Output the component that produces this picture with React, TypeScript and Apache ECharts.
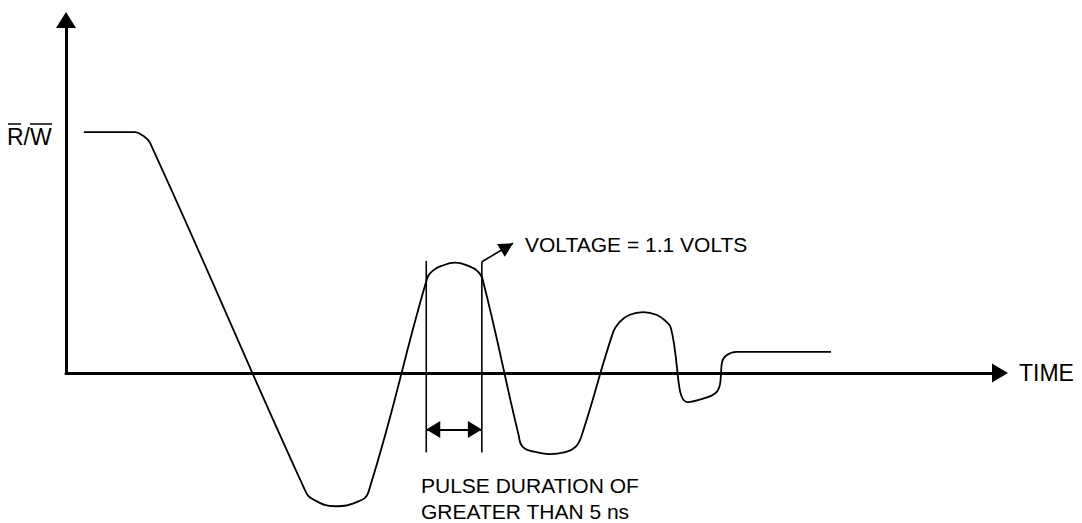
import React, { useEffect, useRef } from "react";
import * as echarts from "echarts";

// Waveform of the R/W line: [time (ns), voltage (V)]
const waveform: [number, number][] = [
  [1.6, 2.73], [6.2, 2.73], [6.9, 2.69], [7.55, 2.61],
  [21.5, -1.33], [22.2, -1.43], [24.2, -1.51], [26.2, -1.46], [27.2, -1.35],
  [32.47, 1.07], [33.0, 1.16], [33.7, 1.21], [35.0, 1.25], [36.25, 1.21], [36.95, 1.16], [37.45, 1.07],
  [40.7, -0.7], [41.1, -0.84], [42.4, -0.9], [43.5, -0.92], [44.8, -0.9], [45.8, -0.84], [46.4, -0.7],
  [49.2, 0.46], [49.8, 0.58], [50.7, 0.66], [51.9, 0.69], [53.1, 0.66], [54.0, 0.58], [54.4, 0.51],
  [55.9, -0.33], [57.3, -0.29], [58.4, -0.23], [58.8, -0.14], [58.9, -0.02], [59.0, 0.12],
  [59.4, 0.2], [60.3, 0.24], [61.1, 0.24], [68.8, 0.24],
];

// Pulse-duration markers
const pulseTimes = [32.4, 37.4];
const pulseLineRange = [-0.9, 1.27];
const durationArrowLevel = -0.64;
const voltageArrowFrom: [number, number] = [37.4, 1.26];
const voltageArrowTo: [number, number] = [40.2, 1.47];

// Axis ranges
const timeRange = [0, 84];
const voltRange = [-1.6, 4];

// Texts
const xAxisName = "TIME";
const yAxisName = "R/W";
const voltageNote = "VOLTAGE = 1.1 VOLTS";
const pulseNote = ["PULSE DURATION OF", "GREATER THAN 5 ns"];

const FONT = "'Liberation Sans', Arial, Helvetica, sans-serif";

export default function App() {
  const ref = useRef<HTMLDivElement>(null);

  useEffect(() => {
    if (!ref.current) return;
    const chart = echarts.init(ref.current, null, { renderer: "svg" });

    const black = "#000";
    const hiddenAxisParts = {
      axisTick: { show: false },
      axisLabel: { show: false },
      splitLine: { show: false },
    };

    const option: any = {
      animation: false,
      backgroundColor: "#fff",
      grid: [
        { left: 66, right: 82, top: 20, bottom: 8.8, outerBoundsMode: "none", containLabel: false },
        { left: 66, right: 82, top: 20, bottom: 150, outerBoundsMode: "none", containLabel: false },
      ],
      xAxis: [
        {
          type: "value",
          gridIndex: 0,
          min: timeRange[0],
          max: timeRange[1],
          axisLine: {
            show: true,
            onZero: true,
            symbol: ["none", "triangle"],
            symbolSize: [19, 16],
            lineStyle: { color: black, width: 3 },
          },
          name: xAxisName,
          nameLocation: "end",
          nameGap: 19,
          nameTextStyle: { fontSize: 23, color: black, fontFamily: FONT, align: "left", verticalAlign: "middle" },
          ...hiddenAxisParts,
        },
        {
          type: "value",
          gridIndex: 1,
          min: timeRange[0],
          max: timeRange[1],
          show: false,
        },
      ],
      yAxis: [
        {
          type: "value",
          gridIndex: 0,
          min: voltRange[0],
          max: voltRange[1],
          axisLine: { show: false },
          ...hiddenAxisParts,
        },
        {
          type: "value",
          gridIndex: 1,
          min: 0,
          max: voltRange[1],
          position: "left",
          axisLine: {
            show: true,
            onZero: false,
            symbol: ["none", "triangle"],
            symbolSize: [20, 16],
            lineStyle: { color: black, width: 3 },
          },
          ...hiddenAxisParts,
        },
      ],
      series: [
        {
          type: "line",
          xAxisIndex: 0,
          yAxisIndex: 0,
          data: waveform,
          smooth: 0.45,
          symbol: "none",
          showSymbol: false,
          lineStyle: { color: black, width: 1.8 },
          silent: true,
        },
        {
          type: "line",
          xAxisIndex: 0,
          yAxisIndex: 0,
          data: [
            [pulseTimes[0], pulseLineRange[0]],
            [pulseTimes[0], pulseLineRange[1]],
          ],
          symbol: "none",
          showSymbol: false,
          lineStyle: { color: black, width: 1.6 },
          silent: true,
          markLine: {
            silent: true,
            symbol: ["triangle", "triangle"],
            symbolSize: [17, 14],
            symbolOffset: [[0, 7], [0, 7]],
            itemStyle: { color: black },
            label: { show: false },
            emphasis: { disabled: true },
            lineStyle: { color: black, width: 2, type: "solid" },
            data: [
              [
                { coord: [pulseTimes[0], durationArrowLevel] },
                { coord: [pulseTimes[1], durationArrowLevel] },
              ],
            ],
          },
        },
        {
          type: "line",
          xAxisIndex: 0,
          yAxisIndex: 0,
          data: [
            [pulseTimes[1], pulseLineRange[0]],
            [pulseTimes[1], voltageArrowFrom[1]],
          ],
          symbol: "none",
          showSymbol: false,
          lineStyle: { color: black, width: 1.6 },
          silent: true,
          markLine: {
            silent: true,
            symbol: ["none", "triangle"],
            symbolSize: [15, 14],
            symbolOffset: [[0, 7], [0, 7]],
            itemStyle: { color: black },
            label: { show: false },
            emphasis: { disabled: true },
            lineStyle: { color: black, width: 1.6, type: "solid" },
            data: [[{ coord: voltageArrowFrom }, { coord: voltageArrowTo }]],
          },
        },
      ],
      graphic: [
        {
          type: "text",
          x: 7,
          y: 137,
          style: { text: yAxisName, fontSize: 23, fontFamily: FONT, fill: black, verticalAlign: "middle" },
        },
        { type: "line", shape: { x1: 8, y1: 124, x2: 21, y2: 124 }, style: { stroke: black, lineWidth: 1.5 } },
        { type: "line", shape: { x1: 30, y1: 124, x2: 52, y2: 124 }, style: { stroke: black, lineWidth: 1.5 } },
        {
          type: "text",
          x: 525,
          y: 244,
          style: { text: voltageNote, fontSize: 21, fontFamily: FONT, fill: black, verticalAlign: "middle" },
        },
        {
          type: "text",
          x: 421,
          y: 485,
          style: { text: pulseNote[0], fontSize: 21, fontFamily: FONT, fill: black, verticalAlign: "middle" },
        },
        {
          type: "text",
          x: 421,
          y: 511,
          style: { text: pulseNote[1], fontSize: 21, fontFamily: FONT, fill: black, verticalAlign: "middle" },
        },
      ],
    };

    chart.setOption(option);
    return () => chart.dispose();
  }, []);

  return (
    <div
      ref={ref}
      style={{ position: "absolute", left: 0, top: 0, width: 1082, height: 523, background: "#fff" }}
    />
  );
}
